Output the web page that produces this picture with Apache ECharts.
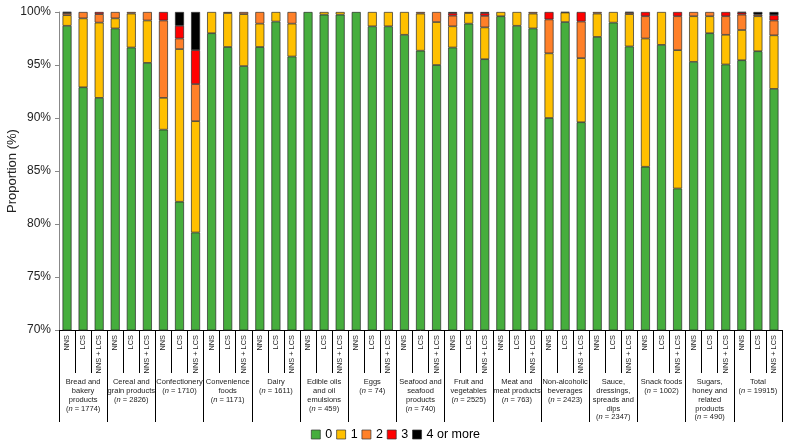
<!DOCTYPE html>
<html>
<head>
<meta charset="utf-8">
<script src="https://cdn.jsdelivr.net/npm/echarts@6/dist/echarts.min.js"></script>
<style>
  html, body { margin: 0; padding: 0; background: #fff; }
  #chart { width: 791px; height: 445px; }
</style>
</head>
<body>
<div id="chart"></div>
<script>
var groupNames = [
  'Bread and\nbakery\nproducts', 'Cereal and\ngrain products', 'Confectionery',
  'Convenience\nfoods', 'Dairy', 'Edible oils\nand oil\nemulsions', 'Eggs',
  'Seafood and\nseafood\nproducts', 'Fruit and\nvegetables', 'Meat and\nmeat products',
  'Non-alcoholic\nbeverages', 'Sauce,\ndressings,\nspreads and\ndips', 'Snack foods',
  'Sugars,\nhoney and\nrelated\nproducts', 'Total'
];
var groupN = [1774, 2826, 1710, 1171, 1611, 459, 74, 740, 2525, 763, 2423, 2347, 1002, 490, 19915];
var subLabels = ['NNS', 'LCS', 'NNS + LCS'];
var levelNames = ['0', '1', '2', '3', '4 or more'];
var yTicks = [70, 75, 80, 85, 90, 95, 100];

// proportion (%) of products in each bar, by level
var zero = [98.7, 92.9, 91.9, 98.45, 96.65, 95.2, 88.9, 82.1, 79.2, 98.0, 96.7, 94.9, 96.7, 99.1, 95.8,
  100, 99.75, 99.75, 100, 98.65, 98.65, 97.85, 96.35, 95.0, 96.65, 98.9, 95.55, 99.6, 98.7, 98.45,
  90.0, 99.05, 89.6, 97.65, 99.0, 96.75, 85.4, 96.9, 83.35, 95.3, 98.0, 95.05, 95.45, 96.3, 92.75];
var one = [1.0, 6.5, 7.1, 0.95, 3.2, 4.0, 3.0, 14.4, 10.5, 2.0, 3.2, 4.9, 2.2, 0.9, 3.1,
  0, 0.25, 0.25, 0, 1.35, 1.35, 2.15, 3.5, 4.05, 2.0, 1.0, 3.0, 0.4, 1.3, 1.4,
  6.1, 0.9, 6.05, 2.2, 1.0, 3.05, 12.1, 3.1, 13.05, 4.3, 1.6, 2.8, 2.85, 3.3, 5.05];
var two = [0.2, 0.6, 0.8, 0.6, 0.15, 0.8, 7.3, 1.0, 3.5, 0, 0.1, 0.2, 1.1, 0, 1.1,
  0, 0, 0, 0, 0, 0, 0, 0.15, 0.95, 1.0, 0.1, 1.08, 0, 0, 0.15,
  3.2, 0.05, 3.45, 0.15, 0, 0.15, 2.1, 0, 3.2, 0.4, 0.4, 1.75, 1.45, 0.15, 1.4];
var three = [0.05, 0, 0.2, 0, 0, 0, 0.8, 1.2, 3.2, 0, 0, 0, 0, 0, 0,
  0, 0, 0, 0, 0, 0, 0, 0, 0, 0.25, 0, 0.27, 0, 0, 0,
  0.7, 0, 0.9, 0, 0, 0, 0.4, 0, 0.4, 0, 0, 0.4, 0.2, 0, 0.5];
var fourPlus = [0.05, 0, 0, 0, 0, 0, 0, 1.3, 3.6, 0, 0, 0, 0, 0, 0,
  0, 0, 0, 0, 0, 0, 0, 0, 0, 0.1, 0, 0.1, 0, 0, 0,
  0, 0, 0, 0, 0, 0.05, 0, 0, 0, 0, 0, 0, 0.05, 0.25, 0.3];

(function() {
  var font = "'Liberation Sans', Arial, sans-serif";
  var colors = ['#46ae3d', '#ffc000', '#ff8029', '#ff0000', '#000000'];
  var levels = [zero, one, two, three, fourPlus];

  var barCats = [];
  groupNames.forEach(function() {
    subLabels.forEach(function(s) { barCats.push(s); });
  });
  var groupCats = groupNames.map(function(g, i) {
    return g + '\n({i|n} = ' + groupN[i] + ')';
  });

  var chart = echarts.init(document.getElementById('chart'), null, { renderer: 'canvas' });

  var series = levels.map(function(arr, k) {
    return {
      name: levelNames[k],
      type: 'bar',
      stack: 'total',
      xAxisIndex: 0,
      barWidth: 9,
      itemStyle: { color: colors[k], borderColor: '#2a2a2a', borderWidth: 0.7 },
      data: arr.map(function(v) { return v === 0 ? null : v; })
    };
  });

  chart.setOption({
    animation: false,
    backgroundColor: '#fff',
    textStyle: { fontFamily: font },
    grid: { left: 59, right: 9, top: 12, bottom: 115, containLabel: false, outerBoundsMode: 'none' },
    legend: {
      top: 423,
      left: 'center',
      itemWidth: 9,
      itemHeight: 9,
      itemGap: 4,
      icon: 'rect',
      textStyle: { fontSize: 12.5, color: '#000', fontFamily: font },
      itemStyle: { borderColor: '#333', borderWidth: 0.7 },
      data: levelNames
    },
    xAxis: [{
      type: 'category',
      data: barCats,
      position: 'bottom',
      axisLine: { show: true, lineStyle: { color: '#000', width: 1 } },
      axisTick: { show: true, interval: 0, length: 43, lineStyle: { color: '#000', width: 1 } },
      axisLabel: { interval: 0, rotate: 90, fontSize: 7.4, color: '#222', margin: 5, fontFamily: font }
    }, {
      type: 'category',
      data: groupCats,
      position: 'bottom',
      axisLine: { show: false },
      axisTick: { show: true, interval: 0, length: 92, lineStyle: { color: '#000', width: 1 } },
      axisLabel: {
        interval: 0, fontSize: 7.5, lineHeight: 8.7, color: '#222', margin: 48, fontFamily: font,
        rich: { i: { fontStyle: 'italic', fontSize: 7.5, lineHeight: 8.7, color: '#222', fontFamily: font } }
      }
    }],
    yAxis: {
      type: 'value',
      min: yTicks[0],
      max: yTicks[yTicks.length - 1],
      interval: 5,
      name: 'Proportion (%)',
      nameLocation: 'middle',
      nameGap: 40,
      nameMoveOverlap: false,
      nameRotate: 90,
      nameTextStyle: { fontSize: 13, color: '#222', fontFamily: font },
      axisLine: { show: true, lineStyle: { color: '#888', width: 1 } },
      axisTick: { show: true, inside: false, length: 4, lineStyle: { color: '#888' } },
      axisLabel: { formatter: '{value}%', fontSize: 12, color: '#222', margin: 8, fontFamily: font },
      splitLine: { show: false }
    },
    series: series
  });

  window.addEventListener('resize', function() { chart.resize(); });
})();
</script>
</body>
</html>
